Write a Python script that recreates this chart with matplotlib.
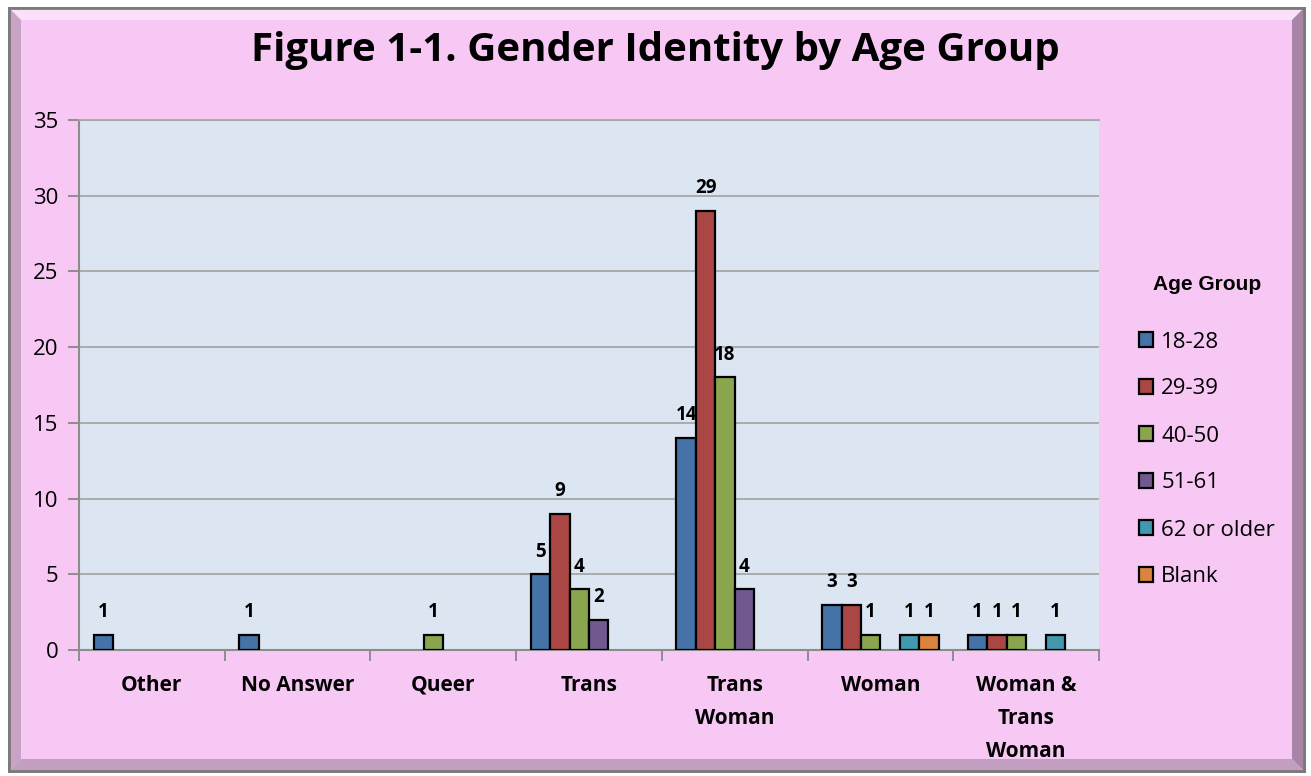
import numpy as np
import matplotlib
matplotlib.use("Agg")
import matplotlib.pyplot as plt
from matplotlib.patches import Rectangle, Polygon

categories = ["Other", "No Answer", "Queer", "Trans", "Trans\nWoman", "Woman", "Woman &\nTrans\nWoman"]
series_names = ["18-28", "29-39", "40-50", "51-61", "62 or older", "Blank"]
v_18_28 = [1, 1, 0, 5, 14, 3, 1]
v_29_39 = [0, 0, 0, 9, 29, 3, 1]
v_40_50 = [0, 0, 1, 4, 18, 1, 1]
v_51_61 = [0, 0, 0, 2, 4, 0, 0]
v_62_up = [0, 0, 0, 0, 0, 1, 1]
v_blank = [0, 0, 0, 0, 0, 1, 0]
series_values = [v_18_28, v_29_39, v_40_50, v_51_61, v_62_up, v_blank]
colors = ["#4572A7", "#AA4643", "#89A54E", "#71588F", "#4198AF", "#DB843D"]
title = "Figure 1-1. Gender Identity by Age Group"
legend_title = "Age Group"
yticks = [0, 5, 10, 15, 20, 25, 30, 35]

W, H = 1311, 776
fig = plt.figure(figsize=(W / 100, H / 100), dpi=100)
fig.patch.set_facecolor("white")

def px(x, y):
    return (x / W, 1 - y / H)

# frame with bevel
L, T, R, B = 9, 8, 1304, 771
bev = 12
outer = Rectangle(px(L, B), (R - L) / W, (B - T) / H, transform=fig.transFigure,
                  facecolor="#F8C8F5", edgecolor="#808080", linewidth=2.0, zorder=0)
fig.patches.append(outer)
fig.patches.append(Polygon([px(L, T), px(R, T), px(R - bev, T + bev), px(L + bev, T + bev)],
                           closed=True, transform=fig.transFigure, facecolor="#FBE0FA",
                           edgecolor="none", zorder=0.5))
fig.patches.append(Polygon([px(L, T), px(L + bev, T + bev), px(L + bev, B - bev), px(L, B)],
                           closed=True, transform=fig.transFigure, facecolor="#C9A3C6",
                           edgecolor="none", zorder=0.5))
fig.patches.append(Polygon([px(R, T), px(R, B), px(R - bev, B - bev), px(R - bev, T + bev)],
                           closed=True, transform=fig.transFigure, facecolor="#A884A6",
                           edgecolor="none", zorder=0.5))
fig.patches.append(Polygon([px(L, B), px(L + bev, B - bev), px(R - bev, B - bev), px(R, B)],
                           closed=True, transform=fig.transFigure, facecolor="#C29EC0",
                           edgecolor="none", zorder=0.5))
fig.patches.append(Rectangle(px(L, B), (R - L) / W, (B - T) / H, transform=fig.transFigure,
                             facecolor="none", edgecolor="#7a7a7a", linewidth=2.0, zorder=1))

# axes
ax_l, ax_t, ax_r, ax_b = 79, 120, 1099, 650
ax = fig.add_axes([ax_l / W, 1 - ax_b / H, (ax_r - ax_l) / W, (ax_b - ax_t) / H])
ax.set_facecolor("#DCE6F2")
ax.set_zorder(2)

n_cat = len(categories)
n_ser = len(series_names)
gap = 1.5
bw = 1.0 / (n_ser + gap)
x = np.arange(n_cat)
for i, (name, vals, c) in enumerate(zip(series_names, series_values, colors)):
    vals = np.array(vals, dtype=float)
    pos = x - 0.5 + (gap / 2) * bw + (i + 0.5) * bw
    mask = vals > 0
    ax.bar(pos[mask], vals[mask], width=bw, color=c, edgecolor="black", linewidth=1.6,
           label=name, zorder=3)
    for p, v in zip(pos[mask], vals[mask]):
        ax.annotate(f"{int(v)}", (p, v), xytext=(0, 9), textcoords="offset points",
                    ha="center", va="bottom", fontsize=13.5, fontweight="bold",
                    family="Open Sans", zorder=4)

ax.set_xlim(-0.5, n_cat - 0.5)
ax.set_ylim(0, 35)
ax.set_yticks(yticks)
ax.set_yticklabels([str(t) for t in yticks], fontsize=16, family="Open Sans")
ax.yaxis.grid(True, color="#A6A6A6", linewidth=1.3)
ax.set_axisbelow(True)
ax.tick_params(axis="y", length=8, width=1.2, color="#808080", pad=7)
ax.set_xticks(np.arange(n_cat + 1) - 0.5, minor=False)
ax.set_xticklabels([])
ax.set_xticks(x, minor=True)
ax.set_xticklabels(categories, minor=True, fontsize=15, fontweight="bold",
                   family="Open Sans", va="top", linespacing=1.75)
ax.tick_params(axis="x", which="major", length=8, width=1.2, color="#808080")
ax.tick_params(axis="x", which="minor", length=0, pad=18)
for s in ["top", "right"]:
    ax.spines[s].set_visible(False)
for s in ["left", "bottom"]:
    ax.spines[s].set_color("#8C8C8C")
    ax.spines[s].set_linewidth(1.5)
ax.spines["top"].set_visible(True)
ax.spines["top"].set_color("#A6A6A6")
ax.spines["top"].set_linewidth(1.3)

# title
fig.text(655 / W, 1 - 50 / H, title, ha="center", va="center", fontsize=29,
         fontweight="bold", family="Open Sans", zorder=5)

# legend
handles, labels = ax.get_legend_handles_labels()
leg = fig.legend(handles, labels, loc="upper left", bbox_to_anchor=(1119 / W, 1 - 255 / H),
                 frameon=False, title=legend_title,
                 title_fontproperties={"weight": "bold", "size": 15, "family": "Liberation Sans"},
                 prop={"family": "Open Sans", "size": 16},
                 handlelength=0.65, handleheight=0.65, handletextpad=0.35,
                 labelspacing=1.17)
leg._legend_box.sep = 27
for h in leg.legend_handles:
    h.set_linewidth(1.6)
    h.set_edgecolor("black")

fig.savefig("out.png", dpi=100, facecolor=fig.get_facecolor())
